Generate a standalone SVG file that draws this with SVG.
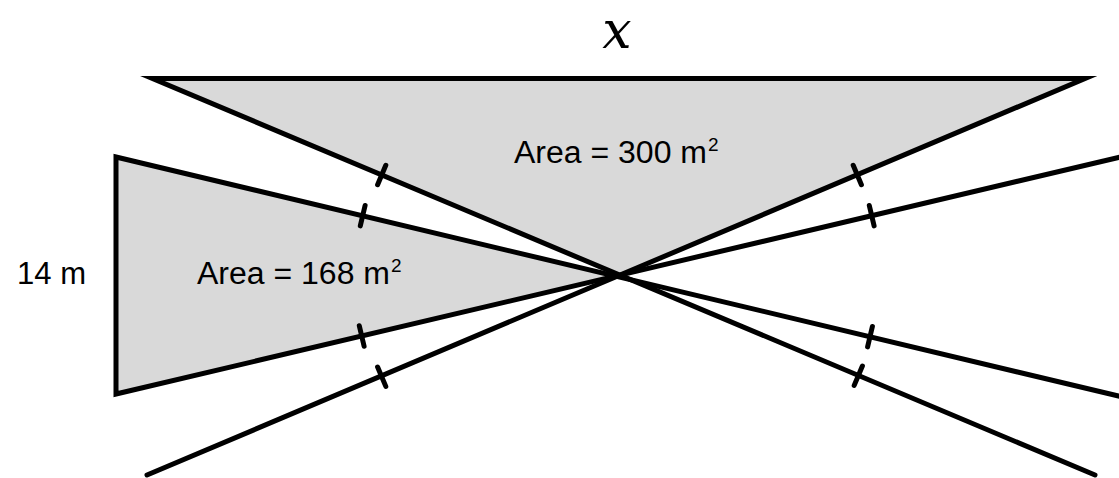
<svg xmlns="http://www.w3.org/2000/svg" width="1119" height="478" viewBox="0 0 1119 478">
<style>
.fill{fill:#d9d9d9;stroke:none}
.edge{fill:none;stroke:#000;stroke-width:5;stroke-linejoin:miter;stroke-miterlimit:12;stroke-linecap:round}
.tick{stroke:#000;stroke-width:5;stroke-linecap:round}
.lbl{font-family:"Liberation Sans",Arial,sans-serif;font-size:31px;fill:#000}
.sup{font-family:"Liberation Sans",Arial,sans-serif;font-size:19px;fill:#000}
.var{font-family:"DejaVu Serif","Liberation Serif",serif;font-style:italic;font-size:52px;fill:#000}
</style>
<rect width="1119" height="478" fill="#fff"/>
<g id="top-triangle">
<polygon class="fill" points="152.5,78.5 1085,78.5 620,275.5"/>
</g>
<g id="left-triangle">
<polygon class="fill" points="116,157 620,276 116,394"/>
</g>
<g id="connectors">
<path class="edge" d="M1095,475 L152.5,78.5 L1085,78.5 L147,475"/>
<path class="edge" d="M1125,155.9 L116,394 L116,157 L1125,397.6"/>
<line class="tick" x1="385.8" y1="165.3" x2="377.6" y2="184.7"/>
<line class="tick" x1="365.1" y1="205.5" x2="360.3" y2="225.9"/>
<line class="tick" x1="359.3" y1="325.8" x2="364.1" y2="346.2"/>
<line class="tick" x1="377.6" y1="367" x2="385.8" y2="386.4"/>
<line class="tick" x1="853.2" y1="165.3" x2="861.4" y2="184.7"/>
<line class="tick" x1="869.3" y1="205.5" x2="874.1" y2="225.9"/>
<line class="tick" x1="872.4" y1="326.5" x2="867.6" y2="346.9"/>
<line class="tick" x1="862.4" y1="366" x2="854.2" y2="385.4"/>
</g>
<g id="labels">
<text class="var" x="617" y="48" text-anchor="middle">x</text>
<text class="lbl" x="514" y="163" textLength="193" lengthAdjust="spacingAndGlyphs">Area = 300 m</text>
<text class="sup" x="708" y="151">2</text>
<text class="lbl" x="197" y="284" textLength="193" lengthAdjust="spacingAndGlyphs">Area = 168 m</text>
<text class="sup" x="391" y="272">2</text>
<text class="lbl" x="17" y="284" textLength="69" lengthAdjust="spacingAndGlyphs">14 m</text>
</g>
</svg>
